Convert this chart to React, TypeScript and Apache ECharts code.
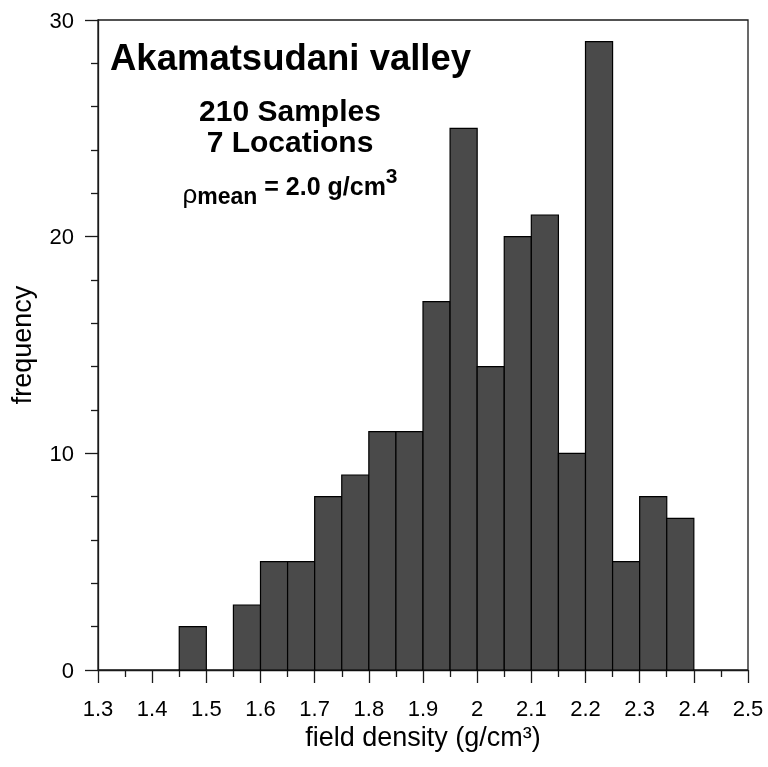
import { useEffect, useRef } from "react";
import * as echarts from "echarts";

// Histogram bins: left edge of each 0.05 g/cm³ bin and its sample count
const binStarts = [
  1.45, 1.5, 1.55, 1.6, 1.65, 1.7, 1.75, 1.8, 1.85, 1.9,
  1.95, 2.0, 2.05, 2.1, 2.15, 2.2, 2.25, 2.3, 2.35,
];
const counts = [2, 0, 3, 5, 5, 8, 9, 11, 11, 17, 25, 14, 20, 21, 10, 29, 5, 8, 7];
const binWidth = 0.05;

const xRange = { min: 1.3, max: 2.5, interval: 0.1 };
const yRange = { min: 0, max: 30, interval: 10 };

const titleText = "Akamatsudani valley";
const infoLines = ["210 Samples", "7 Locations"];

const FONT = '"Liberation Sans", Arial, Helvetica, sans-serif';
const AXIS_COLOR = "#1a1a1a";

export default function App() {
  const ref = useRef<HTMLDivElement>(null);

  useEffect(() => {
    if (!ref.current) return;
    const chart = echarts.init(ref.current, null, { renderer: "svg" });

    const axisCommon = {
      axisLine: { show: true, onZero: false, lineStyle: { color: AXIS_COLOR, width: 1.3 } },
      axisTick: { show: true, inside: false, length: 13, lineStyle: { color: AXIS_COLOR, width: 1.3 } },
      minorTick: { show: true, length: 7, lineStyle: { color: AXIS_COLOR, width: 1.3 } },
      splitLine: { show: false },
      minorSplitLine: { show: false },
    };

    chart.setOption({
      animation: false,
      textStyle: { fontFamily: FONT },
      grid: {
        left: 97,
        right: 20,
        top: 20,
        bottom: 97,
        show: true,
        borderColor: AXIS_COLOR,
        borderWidth: 1.3,
        backgroundColor: "transparent",
      },
      xAxis: {
        type: "value",
        ...xRange,
        ...axisCommon,
        minorTick: { ...axisCommon.minorTick, splitNumber: 2 },
        axisLabel: {
          fontSize: 22,
          color: "#000",
          margin: 27,
          fontFamily: FONT,
          showMinLabel: true,
          showMaxLabel: true,
          formatter: (v: number) => String(Number(v.toFixed(2))),
        },
        name: "field density (g/cm³)",
        nameLocation: "middle",
        nameGap: 52,
        nameTextStyle: { fontSize: 27, color: "#000", fontFamily: FONT },
      },
      yAxis: {
        type: "value",
        ...yRange,
        ...axisCommon,
        minorTick: { ...axisCommon.minorTick, splitNumber: 5 },
        axisLabel: { fontSize: 22, color: "#000", margin: 24, fontFamily: FONT },
        name: "frequency",
        nameLocation: "middle",
        nameGap: 63,
        nameTextStyle: { fontSize: 27, color: "#000", fontFamily: FONT },
      },
      series: [
        {
          type: "custom",
          data: binStarts.map((s, i) => [s, counts[i]]),
          encode: { x: 0, y: 1 },
          renderItem: (_params: any, api: any) => {
            const start = api.value(0);
            const count = api.value(1);
            if (!count) return null;
            const topLeft = api.coord([start, count]);
            const bottomRight = api.coord([start + binWidth, 0]);
            return {
              type: "rect",
              shape: {
                x: topLeft[0],
                y: topLeft[1],
                width: bottomRight[0] - topLeft[0],
                height: bottomRight[1] - topLeft[1],
              },
              style: { fill: "#4a4a4a", stroke: "#000", lineWidth: 1.2 },
            };
          },
        },
      ],
      graphic: [
        {
          type: "text",
          x: 110,
          y: 57,
          style: {
            text: titleText,
            font: `bold 36.5px ${FONT}`,
            fill: "#000",
            align: "left",
            verticalAlign: "middle",
          },
        },
        {
          type: "text",
          x: 290,
          y: 110,
          style: {
            text: infoLines[0],
            font: `bold 30px ${FONT}`,
            fill: "#000",
            align: "center",
            verticalAlign: "middle",
          },
        },
        {
          type: "text",
          x: 290,
          y: 141,
          style: {
            text: infoLines[1],
            font: `bold 30px ${FONT}`,
            fill: "#000",
            align: "center",
            verticalAlign: "middle",
          },
        },
        {
          type: "text",
          x: 290,
          y: 186,
          style: {
            text: "{r|ρ}{sub|mean}{m| = 2.0 g/cm}{sup|3}",
            fill: "#000",
            align: "center",
            verticalAlign: "middle",
            rich: {
              r: { fontFamily: FONT, fontSize: 26, lineHeight: 36, verticalAlign: "bottom" },
              sub: { fontFamily: FONT, fontSize: 23, fontWeight: "bold", lineHeight: 22, verticalAlign: "bottom" },
              m: { fontFamily: FONT, fontSize: 25, fontWeight: "bold", lineHeight: 42, verticalAlign: "middle" },
              sup: { fontFamily: FONT, fontSize: 21, fontWeight: "bold", lineHeight: 32, verticalAlign: "top" },
            },
          },
        },
      ],
    });

    return () => chart.dispose();
  }, []);

  return (
    <div
      ref={ref}
      style={{ position: "fixed", left: 0, top: 0, width: 768, height: 767 }}
    />
  );
}
